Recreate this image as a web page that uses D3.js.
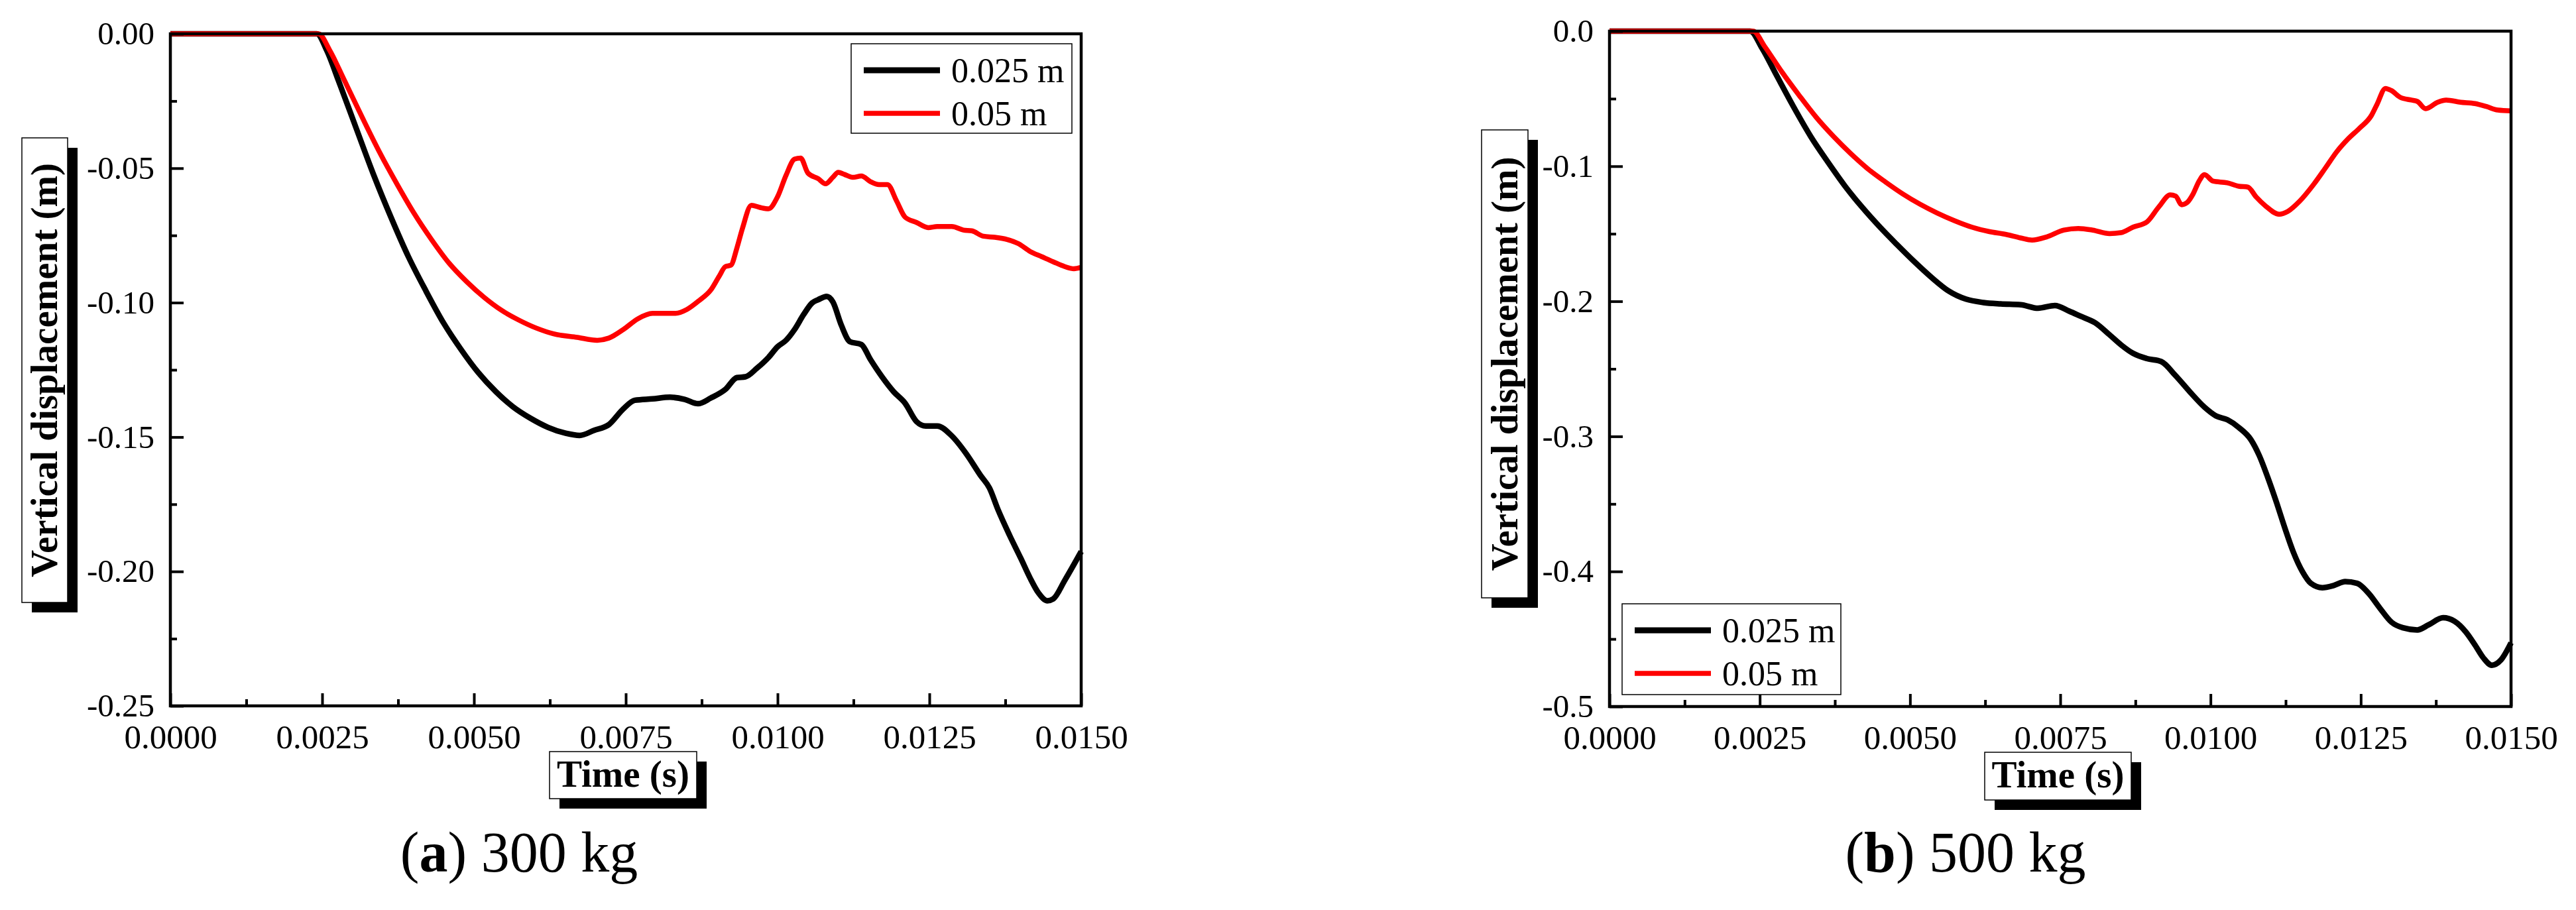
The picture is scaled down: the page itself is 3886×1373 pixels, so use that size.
<!DOCTYPE html>
<html>
<head>
<meta charset="utf-8">
<script src="https://cdn.jsdelivr.net/npm/d3@7"></script>
<style>
body { margin: 0; background: #fff; }
svg text { font-family: "Liberation Serif", "Times New Roman", serif; }
</style>
</head>
<body>
<svg id="chart" width="3886" height="1373"></svg>
<script>
// axis ticks and labels
const xTicks = [0, 0.0025, 0.005, 0.0075, 0.01, 0.0125, 0.015];
const xTickLabels = ["0.0000", "0.0025", "0.0050", "0.0075", "0.0100", "0.0125", "0.0150"];
const xMinor = [0.00125, 0.00375, 0.00625, 0.00875, 0.01125, 0.01375];

const yTicksA = [0, -0.05, -0.1, -0.15, -0.2, -0.25];
const yTickLabelsA = ["0.00", "-0.05", "-0.10", "-0.15", "-0.20", "-0.25"];
const yMinorA = [-0.025, -0.075, -0.125, -0.175, -0.225];

const yTicksB = [0, -0.1, -0.2, -0.3, -0.4, -0.5];
const yTickLabelsB = ["0.0", "-0.1", "-0.2", "-0.3", "-0.4", "-0.5"];
const yMinorB = [-0.05, -0.15, -0.25, -0.35, -0.45];

const seriesNames = ["0.025 m", "0.05 m"];
const seriesColors = ["#000000", "#ff0000"];
const captionLetters = ["a", "b"];
const captionTexts = [" 300 kg", " 500 kg"];

// (a) 300 kg, 0.025 m  [time s, displacement m]
const a300_025 = [
  [0, 0], [0.00241, 0], [0.00258, -0.0064], [0.00277, -0.0175], [0.00306, -0.0351],
  [0.00335, -0.0526], [0.00364, -0.0686], [0.00392, -0.0829], [0.00421, -0.0957],
  [0.00450, -0.1076], [0.00478, -0.1172], [0.00507, -0.1260], [0.00536, -0.1331],
  [0.00564, -0.1387], [0.00593, -0.1430], [0.00622, -0.1464], [0.00651, -0.1486],
  [0.00674, -0.1494], [0.00698, -0.1475], [0.00722, -0.1454], [0.00746, -0.1395],
  [0.00765, -0.1363], [0.00794, -0.1358], [0.00823, -0.1352], [0.00847, -0.1360],
  [0.00869, -0.1376], [0.00890, -0.1355], [0.00914, -0.1323], [0.00933, -0.1279],
  [0.00947, -0.1276], [0.00966, -0.1244], [0.00985, -0.1204], [0.01000, -0.1164],
  [0.01014, -0.1140], [0.01028, -0.1100], [0.01043, -0.1044], [0.01057, -0.1001],
  [0.01067, -0.0989], [0.01081, -0.0977], [0.01091, -0.0997], [0.01105, -0.1084],
  [0.01119, -0.1145], [0.01138, -0.1156], [0.01153, -0.1212], [0.01172, -0.1276],
  [0.01191, -0.1331], [0.01210, -0.1374], [0.01229, -0.1443], [0.01244, -0.1459],
  [0.01263, -0.1459], [0.01287, -0.1496], [0.01311, -0.1563], [0.01334, -0.1642],
  [0.01349, -0.1690], [0.01363, -0.1770], [0.01382, -0.1865], [0.01401, -0.1953],
  [0.01416, -0.2025], [0.01430, -0.2081], [0.01444, -0.2109], [0.01454, -0.2102],
  [0.01473, -0.2033], [0.01500, -0.1926]
];

// (a) 300 kg, 0.05 m
const a300_05 = [
  [0, 0], [0.00244, 0], [0.00263, -0.0064], [0.00287, -0.0175], [0.00316, -0.0311],
  [0.00344, -0.0438], [0.00373, -0.0558], [0.00402, -0.0670], [0.00430, -0.0765],
  [0.00459, -0.0853], [0.00488, -0.0922], [0.00517, -0.0981], [0.00545, -0.1028],
  [0.00574, -0.1065], [0.00603, -0.1095], [0.00631, -0.1116], [0.00670, -0.1129],
  [0.00703, -0.1140], [0.00722, -0.1132], [0.00746, -0.1100], [0.00770, -0.1060],
  [0.00794, -0.1040], [0.00832, -0.1040], [0.00851, -0.1025], [0.00871, -0.0992],
  [0.00890, -0.0953], [0.00904, -0.0901], [0.00914, -0.0866], [0.00923, -0.0861],
  [0.00933, -0.0797], [0.00942, -0.0725], [0.00957, -0.0638], [0.00971, -0.0646],
  [0.00985, -0.0651], [0.01000, -0.0606], [0.01014, -0.0526], [0.01028, -0.0466],
  [0.01038, -0.0462], [0.01050, -0.0518], [0.01067, -0.0539], [0.01079, -0.0558],
  [0.01091, -0.0534], [0.01100, -0.0515], [0.01110, -0.0523], [0.01124, -0.0534],
  [0.01138, -0.0529], [0.01153, -0.0550], [0.01167, -0.0561], [0.01181, -0.0561],
  [0.01196, -0.0622], [0.01210, -0.0682], [0.01229, -0.0702], [0.01248, -0.0721],
  [0.01263, -0.0717], [0.01287, -0.0717], [0.01306, -0.0730], [0.01320, -0.0733],
  [0.01339, -0.0753], [0.01358, -0.0757], [0.01378, -0.0765], [0.01397, -0.0781],
  [0.01416, -0.0810], [0.01435, -0.0829], [0.01454, -0.0848], [0.01473, -0.0866],
  [0.01488, -0.0874], [0.01500, -0.0869]
];

// (b) 500 kg, 0.025 m
const b500_025 = [
  [0, 0], [0.00234, 0], [0.00254, -0.0128], [0.00277, -0.0319], [0.00306, -0.0558],
  [0.00335, -0.0781], [0.00364, -0.0973], [0.00392, -0.1148], [0.00421, -0.1307],
  [0.00450, -0.1451], [0.00478, -0.1579], [0.00507, -0.1706], [0.00536, -0.1824],
  [0.00564, -0.1923], [0.00593, -0.1984], [0.00622, -0.2009], [0.00651, -0.2019],
  [0.00684, -0.2025], [0.00713, -0.2051], [0.00741, -0.2031], [0.00765, -0.2073],
  [0.00784, -0.2111], [0.00808, -0.2159], [0.00832, -0.2248], [0.00851, -0.2322],
  [0.00871, -0.2385], [0.00894, -0.2424], [0.00918, -0.2446], [0.00942, -0.2551],
  [0.00966, -0.2672], [0.00990, -0.2784], [0.01009, -0.2848], [0.01028, -0.2877],
  [0.01047, -0.2934], [0.01067, -0.3023], [0.01081, -0.3141], [0.01095, -0.3301],
  [0.01110, -0.3492], [0.01124, -0.3683], [0.01138, -0.3859], [0.01153, -0.4002],
  [0.01167, -0.4088], [0.01186, -0.4120], [0.01205, -0.4104], [0.01224, -0.4075],
  [0.01244, -0.4088], [0.01263, -0.4162], [0.01282, -0.4273], [0.01301, -0.4375],
  [0.01320, -0.4417], [0.01344, -0.4433], [0.01363, -0.4395], [0.01387, -0.4343],
  [0.01406, -0.4369], [0.01425, -0.4449], [0.01440, -0.4544], [0.01454, -0.4640],
  [0.01468, -0.4694], [0.01483, -0.4656], [0.01500, -0.4528]
];

// (b) 500 kg, 0.05 m
const b500_05 = [
  [0, 0], [0.00239, 0], [0.00258, -0.0112], [0.00287, -0.0303], [0.00316, -0.0478],
  [0.00344, -0.0638], [0.00373, -0.0781], [0.00402, -0.0909], [0.00430, -0.1020],
  [0.00459, -0.1116], [0.00488, -0.1205], [0.00517, -0.1282], [0.00545, -0.1346],
  [0.00574, -0.1403], [0.00603, -0.1451], [0.00631, -0.1483], [0.00660, -0.1505],
  [0.00684, -0.1531], [0.00703, -0.1547], [0.00727, -0.1524], [0.00756, -0.1473],
  [0.00780, -0.1461], [0.00804, -0.1473], [0.00832, -0.1499], [0.00851, -0.1492],
  [0.00871, -0.1451], [0.00894, -0.1413], [0.00914, -0.1301], [0.00933, -0.1212],
  [0.00942, -0.1221], [0.00952, -0.1285], [0.00961, -0.1269], [0.00971, -0.1205],
  [0.00981, -0.1110], [0.00990, -0.1062], [0.01004, -0.1110], [0.01028, -0.1123],
  [0.01047, -0.1148], [0.01062, -0.1154], [0.01076, -0.1228], [0.01091, -0.1292],
  [0.01114, -0.1355], [0.01129, -0.1333], [0.01148, -0.1260], [0.01172, -0.1132],
  [0.01191, -0.1014], [0.01210, -0.0893], [0.01229, -0.0797], [0.01248, -0.0718],
  [0.01268, -0.0622], [0.01277, -0.0542], [0.01291, -0.0424], [0.01301, -0.0440],
  [0.01315, -0.0488], [0.01334, -0.0510], [0.01344, -0.0520], [0.01358, -0.0574],
  [0.01378, -0.0526], [0.01392, -0.0510], [0.01416, -0.0526], [0.01440, -0.0536],
  [0.01459, -0.0558], [0.01478, -0.0584], [0.01500, -0.0590]
];

// panel layout (pixel boxes)
const panels = [
  {
    left: 257, right: 1631, top: 51, bottom: 1065, yMin: -0.25,
    yTicks: yTicksA, yLabels: yTickLabelsA, yMinor: yMinorA,
    series: [a300_025, a300_05],
    legend: { x: 1284, y: 66, w: 333, h: 135 },
    yTitle: { x: 33, y: 208, w: 69, h: 701, base: 86 },
    xTitle: { x: 829, y: 1134, w: 222, h: 71 },
    capX: 783
  },
  {
    left: 2428, right: 3788, top: 47, bottom: 1066, yMin: -0.5,
    yTicks: yTicksB, yLabels: yTickLabelsB, yMinor: yMinorB,
    series: [b500_025, b500_05],
    legend: { x: 2447, y: 911, w: 330, h: 137 },
    yTitle: { x: 2235, y: 196, w: 70, h: 706, base: 2289 },
    xTitle: { x: 2994, y: 1135, w: 221, h: 72 },
    capX: 2965
  }
];

const svg = d3.select("#chart");
const font = '"Liberation Serif", "Times New Roman", serif';

function shadowBox(g, b) {
  g.append("rect").attr("x", b.x + 15).attr("y", b.y + 15)
    .attr("width", b.w).attr("height", b.h).attr("fill", "#000");
  g.append("rect").attr("x", b.x).attr("y", b.y)
    .attr("width", b.w).attr("height", b.h)
    .attr("fill", "#fff").attr("stroke", "#000").attr("stroke-width", 1.5);
}

panels.forEach((p, pi) => {
  const g = svg.append("g");

  const x = d3.scaleLinear().domain([0, 0.015]).range([p.left, p.right]);
  const y = d3.scaleLinear().domain([p.yMin, 0]).range([p.bottom, p.top]);

  // curves
  const line = d3.line().x(d => x(d[0])).y(d => y(d[1])).curve(d3.curveMonotoneX);
  p.series.forEach((s, si) => {
    g.append("path").datum(s)
      .attr("d", line)
      .attr("fill", "none")
      .attr("stroke", seriesColors[si])
      .attr("stroke-width", si === 0 ? 8.5 : 7.5)
      .attr("stroke-linejoin", "round");
  });

  // x axis
  const xa = g.append("g").attr("transform", `translate(0,${p.bottom})`)
    .call(d3.axisBottom(x).tickValues(xTicks).tickSize(-19).tickSizeOuter(0)
      .tickPadding(28).tickFormat((d, i) => xTickLabels[i]));
  g.append("g").attr("transform", `translate(0,${p.bottom})`)
    .call(d3.axisBottom(x).tickValues(xMinor).tickSize(-10).tickSizeOuter(0).tickFormat(""))
    .call(a => a.select(".domain").remove())
    .selectAll("line").attr("stroke-width", 4);
  xa.select(".domain").remove();
  xa.selectAll("line").attr("stroke-width", 4);
  xa.selectAll("text").attr("font-size", 51).attr("font-family", font).attr("fill", "#000");

  // y axis
  const ya = g.append("g").attr("transform", `translate(${p.left},0)`)
    .call(d3.axisLeft(y).tickValues(p.yTicks).tickSize(-20).tickSizeOuter(0)
      .tickPadding(24).tickFormat((d, i) => p.yLabels[i]));
  g.append("g").attr("transform", `translate(${p.left},0)`)
    .call(d3.axisLeft(y).tickValues(p.yMinor).tickSize(-10).tickSizeOuter(0).tickFormat(""))
    .call(a => a.select(".domain").remove())
    .selectAll("line").attr("stroke-width", 4);
  ya.select(".domain").remove();
  ya.selectAll("line").attr("stroke-width", 4);
  ya.selectAll("text").attr("font-size", 49).attr("font-family", font).attr("fill", "#000");

  // frame
  g.append("rect")
    .attr("x", p.left).attr("y", p.top)
    .attr("width", p.right - p.left).attr("height", p.bottom - p.top)
    .attr("fill", "none").attr("stroke", "#000").attr("stroke-width", 4.5);

  // legend
  const lg = g.append("g");
  lg.append("rect").attr("x", p.legend.x).attr("y", p.legend.y)
    .attr("width", p.legend.w).attr("height", p.legend.h)
    .attr("fill", "#fff").attr("stroke", "#000").attr("stroke-width", 1.5);
  seriesNames.forEach((name, si) => {
    const ry = p.legend.y + 40 + si * 65;
    lg.append("line")
      .attr("x1", p.legend.x + 19).attr("x2", p.legend.x + 134)
      .attr("y1", ry).attr("y2", ry)
      .attr("stroke", seriesColors[si]).attr("stroke-width", si === 0 ? 9 : 7.5);
    lg.append("text")
      .attr("x", p.legend.x + 151).attr("y", ry).attr("dy", "0.35em")
      .attr("font-size", 52).text(name);
  });

  // y title box
  shadowBox(g, p.yTitle);
  g.append("text")
    .attr("transform", `translate(${p.yTitle.base},${p.yTitle.y + p.yTitle.h / 2}) rotate(-90)`)
    .attr("text-anchor", "middle").attr("font-weight", "bold").attr("font-size", 57)
    .text("Vertical displacement (m)");

  // x title box
  shadowBox(g, p.xTitle);
  g.append("text")
    .attr("x", p.xTitle.x + p.xTitle.w / 2).attr("y", p.xTitle.y + 53)
    .attr("text-anchor", "middle").attr("font-weight", "bold").attr("font-size", 57)
    .text("Time (s)");

  // caption
  const cap = g.append("text")
    .attr("x", p.capX).attr("y", 1315)
    .attr("text-anchor", "middle").attr("font-size", 86);
  cap.append("tspan").text("(");
  cap.append("tspan").attr("font-weight", "bold").text(captionLetters[pi]);
  cap.append("tspan").text(")" + captionTexts[pi]);
});
</script>
</body>
</html>
